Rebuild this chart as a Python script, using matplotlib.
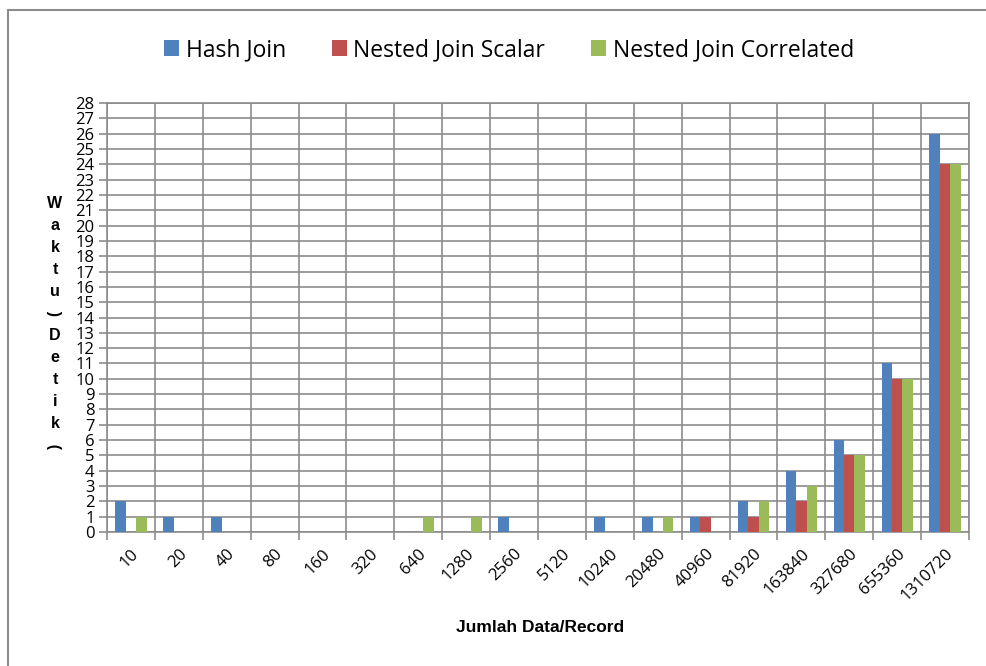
import matplotlib.pyplot as plt
import numpy as np
from matplotlib.patches import Rectangle

categories = ["10", "20", "40", "80", "160", "320", "640", "1280", "2560", "5120",
              "10240", "20480", "40960", "81920", "163840", "327680", "655360", "1310720"]
hash_join = [2, 1, 1, 0, 0, 0, 0, 0, 1, 0, 1, 1, 1, 2, 4, 6, 11, 26]
nested_scalar = [0, 0, 0, 0, 0, 0, 0, 0, 0, 0, 0, 0, 1, 1, 2, 5, 10, 24]
nested_correlated = [1, 0, 0, 0, 0, 0, 1, 1, 0, 0, 0, 1, 0, 2, 3, 5, 10, 24]

series = [("Hash Join", hash_join, "#4F81BD"),
          ("Nested Join Scalar", nested_scalar, "#C0504D"),
          ("Nested Join Correlated", nested_correlated, "#9BBB59")]

fig = plt.figure(figsize=(9.87, 6.66), dpi=100)
ax = fig.add_axes([107 / 987, 1 - 532 / 666, (969 - 107) / 987, (532 - 103) / 666])

# chart area border (runs off the right/bottom edge like the original)
fig.patches.append(Rectangle((8 / 987, -0.2), 1.5, 1 - 10 / 666 + 0.2,
                             transform=fig.transFigure, fill=False,
                             edgecolor="#8c8c8c", linewidth=1.5, zorder=0))

x = np.arange(len(categories))
w = 0.217
for i, (name, vals, col) in enumerate(series):
    ax.bar(x + (i - 1) * w, vals, width=w, color=col, label=name, zorder=3)

ax.set_xlim(-0.5, len(categories) - 0.5)
ax.set_ylim(0, 28)
ax.set_yticks(range(0, 29))
ax.set_yticklabels([str(v) for v in range(0, 29)], fontsize=12, family="Open Sans",
                   linespacing=1.0)

# vertical grid at category boundaries
ax.set_xticks(np.arange(-0.5, len(categories), 1), minor=True)
ax.set_xticks(x)
ax.set_xticklabels(categories, rotation=45, ha="right", rotation_mode="anchor",
                   fontsize=12, family="Open Sans")
ax.tick_params(axis="x", which="major", length=0, pad=10)
ax.tick_params(axis="x", which="minor", length=6, color="#8c8c8c", width=1.2)
ax.tick_params(axis="y", length=6, color="#8c8c8c", width=1.2, pad=3)
ax.grid(True, which="minor", axis="x", color="#8c8c8c", linewidth=1.2, zorder=0)
ax.grid(True, which="major", axis="y", color="#8c8c8c", linewidth=1.2, zorder=0)
for s in ax.spines.values():
    s.set_color("#8c8c8c")
    s.set_linewidth(1.2)

# stacked vertical y-axis label
label_chars = list("Waktu(Detik)")
y0, y1 = 203, 446
ys = np.linspace(y0, y1, len(label_chars))
for ch, yy in zip(label_chars, ys):
    rot = 90 if ch in "()" else 0
    fig.text(55 / 987, 1 - yy / 666, ch, ha="center", va="center", rotation=rot,
             fontsize=11.5, fontweight="bold", family="Liberation Sans")

fig.text(540 / 987, 1 - 628 / 666, "Jumlah Data/Record", ha="center", va="center",
         fontsize=12.5, fontweight="bold", family="Liberation Sans")

fig.legend(loc="center", bbox_to_anchor=(509 / 987, 1 - 50 / 666), ncol=3,
           frameon=False, prop={"family": "Open Sans", "size": 16.5},
           handlelength=0.65, handleheight=0.65, handletextpad=0.3, columnspacing=2.0)

fig.savefig("out.png", dpi=100)
